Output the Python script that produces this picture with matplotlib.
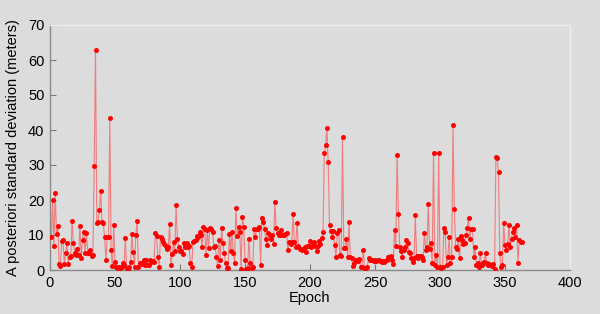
import numpy as np
import matplotlib
matplotlib.use("Agg")
import matplotlib.pyplot as plt

# A posteriori standard deviation (meters) per epoch
seg_a = [9.5, 20, 6.9, 21.9, 10.2, 12.6, 1.7, 1.2, 8.3, 8.6, 1.6, 4.8, 7.8, 1.6, 3.8, 4, 14, 7.6,
         4.8, 4.3, 5.9, 4.3, 12.6, 3.3, 8.6, 11, 5, 10.5, 5, 4.8, 5.7, 4, 4.2, 29.8, 62.8]
seg_b = [13.5, 13.8, 17.1, 22.6, 13.8, 13.5, 9.3, 3, 9.3, 9.3, 43.3, 5.7, 1.2, 12.8, 2.4]
seg_c = [1, 0.5, 0.8, 0.5, 1, 1.9, 1.5, 9.2, 0.5, 0.3, 0.8, 2.4, 10.2, 5.2, 1, 10, 14, 1, 1.9,
         1.9, 1.6, 2.9, 1.4, 2.9, 1.4, 1.4, 2.9, 2.4, 2.6, 2.2]
seg_d = [10.5, 9.7, 3.7, 1, 9.4, 9, 8, 7.5, 7, 6,
         6.6, 13.2, 1.4, 4.5, 8, 5.5, 18.5, 8.8, 6.6, 5.5,
         5.5, 4.5, 7.8, 6.6, 7.8, 6.6, 7.0, 2, 0.8, 8, 8.3,
         8.7, 9.7, 9.5, 10.9, 10, 6.6, 12.3, 11.8, 4.3, 11.4,
         6.2, 12, 11.8, 10.9, 6.6, 7, 3.8, 1.1, 8.7, 2.8,
         12, 7.6, 4.8, 1.9, 0.5, 0.5, 10.2, 5.5, 11, 4.8,
         2, 17.6, 9.7, 12.4, 10.9, 0.3, 15.2, 12.4, 2.8, 0.2,
         0.5, 9, 2, 0.5, 1.0, 11.6, 9.5, 11.6, 11.8, 12.4, 1.4,
         14.8, 13.8, 11.8, 8.8, 7.2, 10.5, 10.0, 8.8, 10, 7.5, 19.3]
seg_e = [11.9, 10.5, 10, 10, 11.4, 10, 10, 10.3, 10.5, 5.7, 8, 7.3, 8, 16, 8, 6.6, 13.5, 7, 6,
         6, 5.8, 6, 6.5, 5.2, 6.8, 7, 8.4, 6.5, 7.6, 8, 7, 5.5, 7, 8.2, 7.5, 9.1, 11,
         33.3, 35.7, 40.7, 30.8, 13, 11.1, 9.5, 11.1, 7.1, 3.8, 10.5, 11.4, 4.3, 4, 38.1,
         6.2, 6.2, 8.8, 3.8, 13.7, 3.8, 3.3, 1.2, 1.9, 3, 2.8, 2.6, 3.2, 0.8, 1, 5.7,
         0.4, 0.5, 0.8, 3.3, 3, 2.8, 2.8, 2.6, 3, 2.6, 2.8, 2.8, 2.6, 2.2, 2.6, 2.4, 2.6, 3,
         3.8, 3.8, 4, 2.8, 1.6, 11.4, 6.8, 32.9]
seg_f = [16.1, 6.7, 5.5, 3.8, 5.7, 6.5, 8.6, 7.6, 5.2, 4.8,
         3.3, 2.4, 3.3, 15.7, 4, 3.3, 4, 4, 3.8, 2.9,
         10.7, 5.7, 6.5, 19, 6, 7.8, 1.9, 33.5, 1.4, 4.3,
         1, 33.3, 1, 0.5, 0.8, 12.1, 11, 1.4, 3.6, 9.3,
         2.0, 3.6, 41.5, 17.4, 6.7, 5.9, 8.8, 3.3, 9.7, 8.6, 7.4,
         7.6, 10, 12, 14.8, 9, 11.7, 11.7, 3.8, 6.5, 1.4,
         1.9, 1, 4.8, 1.4, 1.9, 2.4, 4.8, 1.9, 1.4,
         1.6, 1.4, 1.2, 1.8, 0.3, 32.4, 31.9, 28, 4.8, 1, 1.4, 13.5,
         7.1, 5.7, 7.5, 12.9, 6.7, 8.8, 11, 12, 9.5, 12.9, 2.1, 8.6, 8.1, 7.9]

values = seg_a + seg_b + seg_c + seg_d + seg_e + seg_f
epochs = np.arange(1, len(values) + 1)

x_ticks = [0, 50, 100, 150, 200, 250, 300, 350, 400]
y_ticks = [0, 10, 20, 30, 40, 50, 60, 70]

plt.rcParams['font.family'] = ['Liberation Sans', 'DejaVu Sans']

fig = plt.figure(figsize=(6.0, 3.14), dpi=100)
bg = '#dcdcdc'
fig.patch.set_facecolor(bg)
ax = fig.add_axes([50/600, 44/314, 520/600, 245/314])
ax.set_facecolor(bg)

ax.plot(epochs, values, color='#ff3030', lw=0.8, alpha=0.55, zorder=2)
ax.plot(epochs, values, ls='none', marker='o', ms=3.6, color='#ff0000',
        markeredgewidth=0, zorder=3)

ax.set_xlim(0, 400)
ax.set_ylim(0, 70)
ax.set_xticks(x_ticks)
ax.set_yticks(y_ticks)
ax.tick_params(direction='in', length=4, color='#777777', labelsize=10.5,
               labelcolor='black', pad=4)
for s in ['left', 'bottom']:
    ax.spines[s].set_color('#8a8a8a')
    ax.spines[s].set_linewidth(1.0)
for s in ['top', 'right']:
    ax.spines[s].set_color('#eeeeee')
    ax.spines[s].set_linewidth(1.0)

ax.set_xlabel('Epoch', fontsize=10.5, labelpad=1)
ax.set_ylabel('A posteriori standard deviation (meters)', fontsize=10.5, labelpad=6)

fig.savefig('out.png', dpi=100, facecolor=bg)
